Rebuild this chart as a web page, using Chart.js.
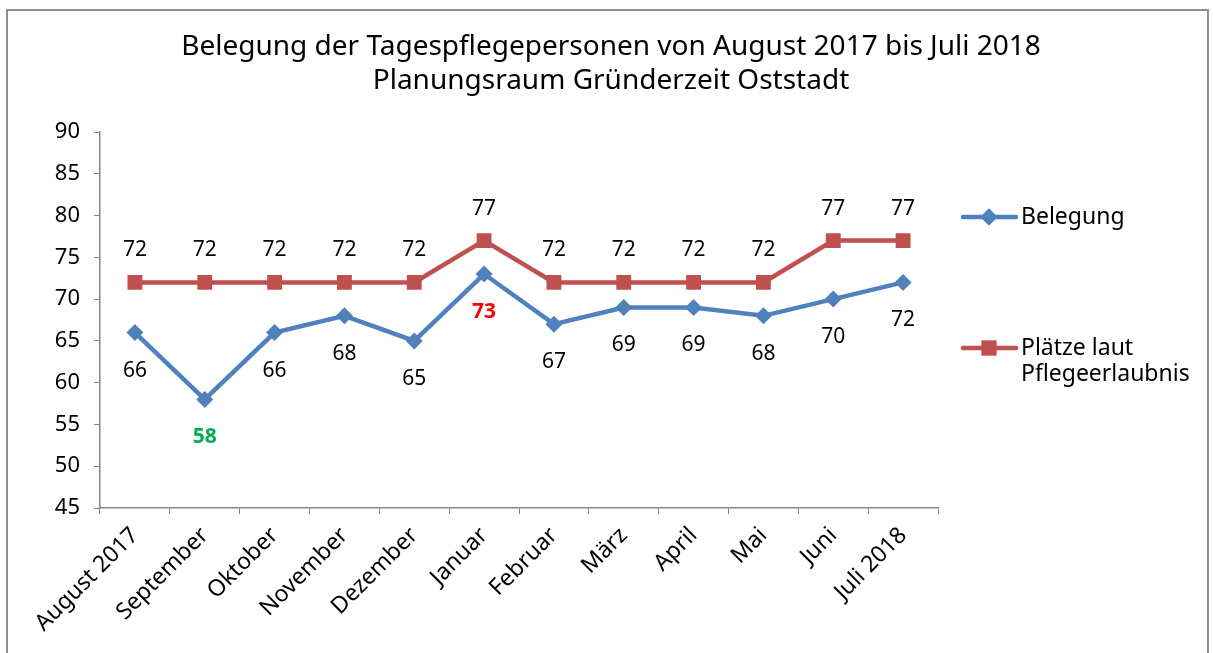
<!DOCTYPE html>
<html><head><meta charset="utf-8">
<script src="https://cdn.jsdelivr.net/npm/chart.js@4.4.1/dist/chart.umd.min.js"></script>
<style>
html,body{margin:0;padding:0;background:#fff;overflow:hidden}
#wrap{position:relative;width:1213px;height:653px}
#frame{position:absolute;left:6px;top:9px;width:1203px;height:700px;border:2px solid #8e8e8e;border-bottom:none;box-sizing:border-box}
canvas{position:absolute;left:0;top:0}
</style></head>
<body><div id="wrap"><div id="frame"></div><canvas id="c" width="1213" height="653"></canvas></div>
<script>
const categories = ['August 2017','September','Oktober','November','Dezember','Januar','Februar','März','April','Mai','Juni','Juli 2018'];
const belegung = [66,58,66,68,65,73,67,69,69,68,70,72];
const plaetze = [72,72,72,72,72,77,72,72,72,72,77,77];
const yMin = 45, yMax = 90, yStep = 5;
const seriesNames = ['Belegung', 'Plätze laut Pflegeerlaubnis'];
const titleLines = ['Belegung der Tagespflegepersonen von August 2017 bis Juli 2018', 'Planungsraum Gründerzeit Oststadt'];

const BLUE = '#4F81BD', RED = '#C0504D', AXIS = '#868686';
const FONT = '"Noto Sans", "Open Sans", sans-serif';
// highlighted labels of the Belegung series (style only)
const labelHighlight = {1: '#00B050', 5: '#FF0000'};

const titlePlugin = {
  id: 'titleDraw',
  afterDraw(chart) {
    const ctx = chart.ctx;
    ctx.save();
    ctx.fillStyle = '#000';
    ctx.font = '28px ' + FONT;
    ctx.textAlign = 'center';
    ctx.textBaseline = 'middle';
    ctx.fillText(titleLines[0], 611, 47);
    ctx.fillText(titleLines[1], 611, 81);
    ctx.restore();
  }
};

const labelPlugin = {
  id: 'valueLabels',
  afterDatasetsDraw(chart) {
    const ctx = chart.ctx;
    ctx.save();
    ctx.textAlign = 'center';
    ctx.textBaseline = 'middle';
    chart.data.datasets.forEach((ds, di) => {
      const meta = chart.getDatasetMeta(di);
      meta.data.forEach((pt, i) => {
        const v = ds.data[i];
        let color = '#000', bold = false;
        if (di === 0 && labelHighlight[i]) { color = labelHighlight[i]; bold = true; }
        ctx.fillStyle = color;
        ctx.font = (bold ? 'bold ' : '') + '21px ' + FONT;
        const dy = di === 0 ? 38 : -32;
        ctx.fillText(String(v), pt.x, pt.y + dy);
      });
    });
    ctx.restore();
  }
};

const legendPlugin = {
  id: 'legendDraw',
  afterDraw(chart) {
    const ctx = chart.ctx;
    ctx.save();
    const items = [
      {y: 217, color: BLUE, style: 'rectRot', r: 8.5, lines: [seriesNames[0]]},
      {y: 348, color: RED, style: 'rect', r: 10.5, lines: ['Plätze laut', 'Pflegeerlaubnis']}
    ];
    items.forEach(it => {
      ctx.strokeStyle = it.color;
      ctx.lineWidth = 4.5;
      ctx.lineCap = 'round';
      ctx.beginPath(); ctx.moveTo(963, it.y); ctx.lineTo(1016, it.y); ctx.stroke();
      ctx.fillStyle = it.color;
      Chart.helpers.drawPoint(ctx, {pointStyle: it.style, radius: it.r, borderWidth: 0, rotation: 0}, 989, it.y);
      ctx.fill();
      ctx.fillStyle = '#000';
      ctx.font = '23px ' + FONT;
      ctx.textAlign = 'left';
      ctx.textBaseline = 'middle';
      it.lines.forEach((t, k) => ctx.fillText(t, 1021, it.y + k * 26));
    });
    ctx.restore();
  }
};

new Chart(document.getElementById('c'), {
  type: 'line',
  data: {
    labels: categories,
    datasets: [
      {label: seriesNames[0], data: belegung, borderColor: BLUE, backgroundColor: BLUE, borderWidth: 4.5,
       pointStyle: 'rectRot', pointRadius: 8.5, pointBorderWidth: 0, pointBackgroundColor: BLUE, tension: 0},
      {label: seriesNames[1], data: plaetze, borderColor: RED, backgroundColor: RED, borderWidth: 4.5,
       pointStyle: 'rect', pointRadius: 10.5, pointBorderWidth: 0, pointBackgroundColor: RED, tension: 0}
    ]
  },
  options: {
    responsive: false,
    animation: false,
    devicePixelRatio: 1,
    layout: {padding: {top: 132, right: 275, bottom: 0, left: 0}},
    plugins: {legend: {display: false}, title: {display: false}, tooltip: {enabled: false}},
    scales: {
      x: {
        offset: true,
        grid: {display: true, drawOnChartArea: false, drawTicks: true, tickLength: 6, color: AXIS, offset: true},
        border: {display: true, color: AXIS, width: 1.5},
        ticks: {color: '#000', font: {family: FONT, size: 23}, minRotation: 45, maxRotation: 45, padding: 8, autoSkip: false},
        afterFit(s) { s.height = 145; }
      },
      y: {
        min: yMin, max: yMax,
        grid: {display: true, drawOnChartArea: false, drawTicks: true, tickLength: 6, color: AXIS},
        border: {display: true, color: AXIS, width: 1.5},
        ticks: {stepSize: yStep, color: '#000', font: {family: FONT, size: 22}, padding: 14},
        afterFit(s) { s.width = 100; }
      }
    }
  },
  plugins: [titlePlugin, labelPlugin, legendPlugin]
});
</script>
</body></html>
